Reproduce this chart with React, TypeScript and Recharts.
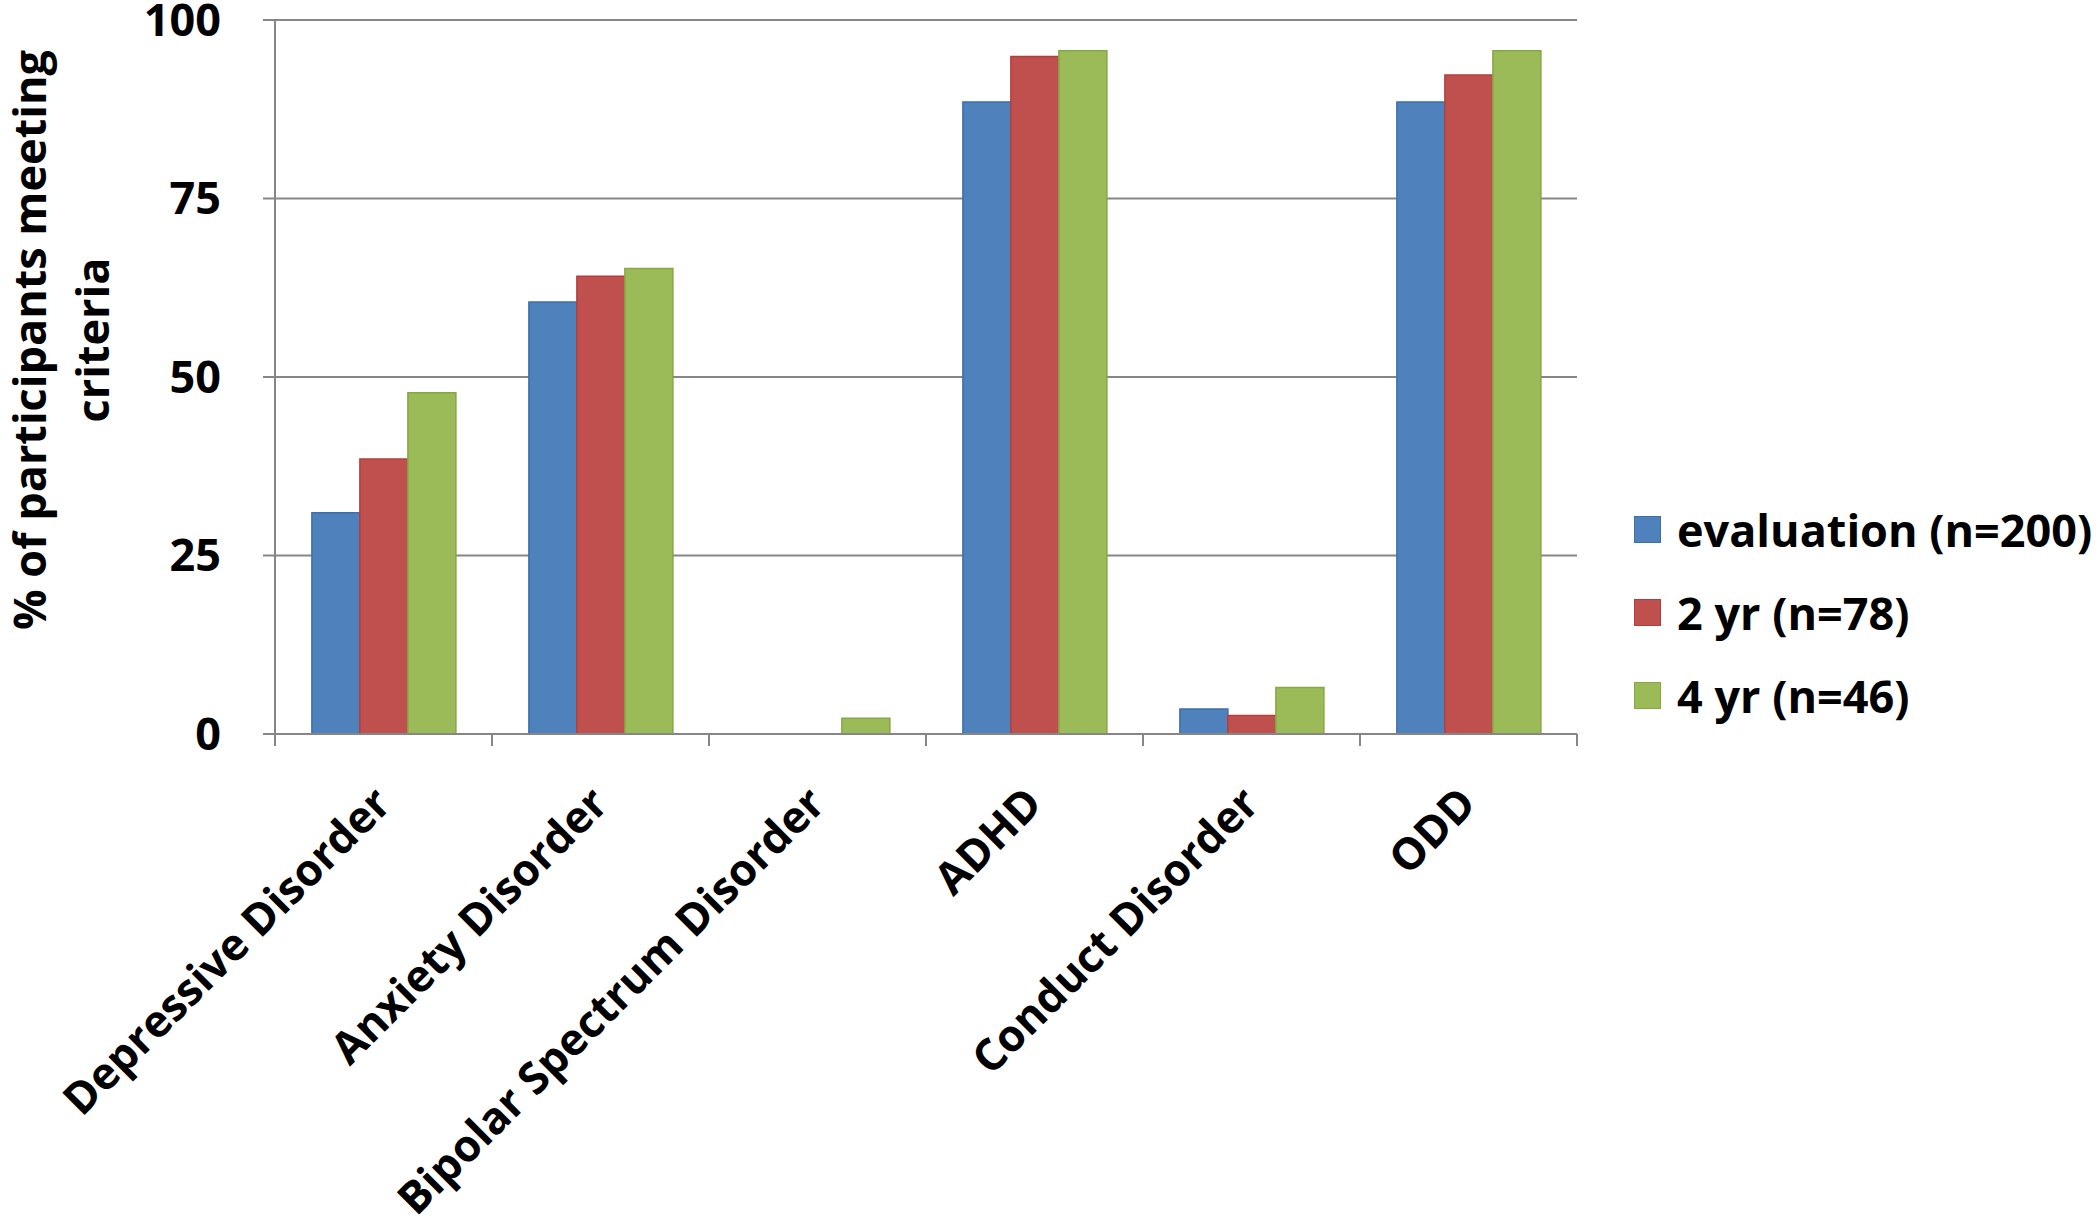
import React from "react";
import { BarChart, Bar, XAxis, YAxis, CartesianGrid } from "recharts";

const categories = [
  "Depressive Disorder",
  "Anxiety Disorder",
  "Bipolar Spectrum Disorder",
  "ADHD",
  "Conduct Disorder",
  "ODD",
];
const evaluation = [31, 60.5, 0, 88.5, 3.5, 88.5];
const twoYear = [38.5, 64.1, 0, 94.9, 2.6, 92.3];
const fourYear = [47.8, 65.2, 2.2, 95.7, 6.5, 95.7];
const yTicks = [0, 25, 50, 75, 100];
const seriesNames = ["evaluation (n=200)", "2 yr (n=78)", "4 yr (n=46)"];
const seriesColors = ["#4F81BD", "#C0504D", "#9BBB59"];
const seriesStrokes = ["#3D6FAD", "#B23F3C", "#86A843"];
const yLabelLines = ["% of participants meeting", "criteria"];

const data = categories.map((c, i) => ({
  name: c,
  evaluation: evaluation[i],
  twoYear: twoYear[i],
  fourYear: fourYear[i],
}));

const W = 2100;
const H = 1225;
const PLOT_LEFT = 275;
const PLOT_RIGHT = 1577;
const PLOT_TOP = 20;
const PLOT_BOTTOM = 734;
const FONT = "'Open Sans', Lato, sans-serif";
const FS = 45;
const XFS = 44;
const AXIS_COLOR = "#868686";
const bandWidth = (PLOT_RIGHT - PLOT_LEFT) / categories.length;

const XTick = (props: any) => {
  const { x, payload, index } = props;
  const left = x - bandWidth / 2;
  return (
    <g>
      <line x1={left} y1={PLOT_BOTTOM} x2={left} y2={PLOT_BOTTOM + 12} stroke={AXIS_COLOR} strokeWidth={2} />
      {index === categories.length - 1 && (
        <line x1={x + bandWidth / 2} y1={PLOT_BOTTOM} x2={x + bandWidth / 2} y2={PLOT_BOTTOM + 12} stroke={AXIS_COLOR} strokeWidth={2} />
      )}
      <text
        transform={`translate(${x + 10},${PLOT_BOTTOM + 72}) rotate(-45)`}
        textAnchor="end"
        fontFamily={FONT}
        fontWeight="bold"
        fontSize={XFS}
        fill="#000"
      >
        {payload.value}
      </text>
    </g>
  );
};

const YLabel = () => (
  <g>
    <text
      transform={`translate(28,340) rotate(-90)`}
      textAnchor="middle"
      dominantBaseline="central"
      fontFamily={FONT}
      fontWeight="bold"
      fontSize={FS}
      fill="#000"
    >
      {yLabelLines[0]}
    </text>
    <text
      transform={`translate(91,340) rotate(-90)`}
      textAnchor="middle"
      dominantBaseline="central"
      fontFamily={FONT}
      fontWeight="bold"
      fontSize={FS}
      fill="#000"
    >
      {yLabelLines[1]}
    </text>
  </g>
);

const LegendBox = () => (
  <div style={{ position: "absolute", left: 1634, top: 488, display: "flex", flexDirection: "column" }}>
    {seriesNames.map((n, i) => (
      <div key={n} style={{ display: "flex", alignItems: "center", height: 83 }}>
        <div
          style={{
            width: 27,
            height: 27,
            background: seriesColors[i],
            border: `1px solid ${seriesStrokes[i]}`,
            boxSizing: "border-box",
            marginRight: 16,
          }}
        />
        <span style={{ fontFamily: FONT, fontWeight: "bold", fontSize: FS, color: "#000", whiteSpace: "nowrap" }}>{n}</span>
      </div>
    ))}
  </div>
);

export default function App() {
  return (
    <div style={{ position: "absolute", left: 0, top: 0, width: W, height: H, background: "#fff" }}>
      <BarChart
        width={W}
        height={H}
        data={data}
        margin={{ top: PLOT_TOP, right: W - PLOT_RIGHT, left: PLOT_LEFT - 100, bottom: H - PLOT_BOTTOM - 300 }}
        barGap={0}
        barCategoryGap="17%"
      >
        <CartesianGrid vertical={false} stroke={AXIS_COLOR} strokeWidth={2} />
        <XAxis
          dataKey="name"
          interval={0}
          height={300}
          tickLine={false}
          axisLine={{ stroke: AXIS_COLOR, strokeWidth: 2 }}
          tick={<XTick />}
        />
        <YAxis
          width={100}
          domain={[0, 100]}
          ticks={yTicks}
          interval={0}
          tickSize={12}
          tickMargin={42}
          axisLine={{ stroke: AXIS_COLOR, strokeWidth: 2 }}
          tickLine={{ stroke: AXIS_COLOR, strokeWidth: 2 }}
          tick={{ fontFamily: FONT, fontWeight: "bold", fontSize: FS, fill: "#000" }}
          label={{ content: () => <YLabel /> }}
        />
        <Bar dataKey="evaluation" name={seriesNames[0]} fill={seriesColors[0]} stroke={seriesStrokes[0]} strokeWidth={1.5} isAnimationActive={false} />
        <Bar dataKey="twoYear" name={seriesNames[1]} fill={seriesColors[1]} stroke={seriesStrokes[1]} strokeWidth={1.5} isAnimationActive={false} />
        <Bar dataKey="fourYear" name={seriesNames[2]} fill={seriesColors[2]} stroke={seriesStrokes[2]} strokeWidth={1.5} isAnimationActive={false} />
      </BarChart>
      <LegendBox />
    </div>
  );
}
